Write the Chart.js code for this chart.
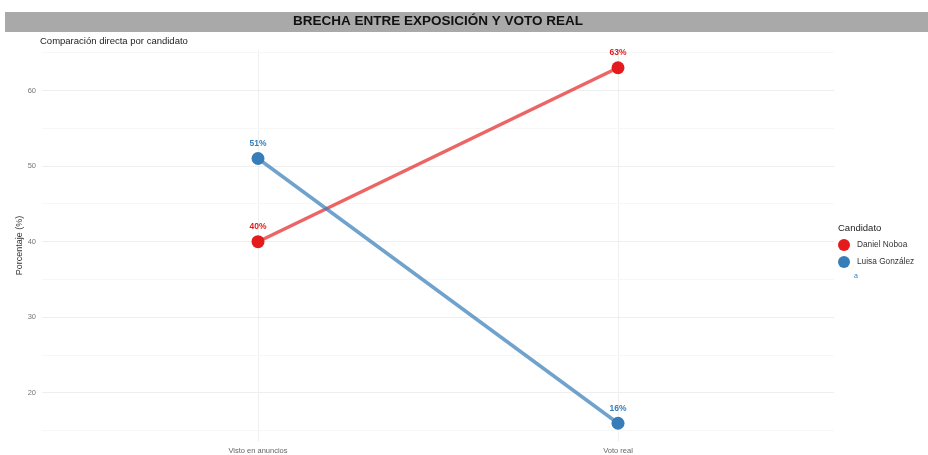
<!DOCTYPE html>
<html>
<head>
<meta charset="utf-8">
<script src="https://cdn.jsdelivr.net/npm/chart.js@4.4.1/dist/chart.umd.min.js"></script>
<style>
  html, body { margin: 0; padding: 0; background: #fff; }
  #wrap { width: 928px; height: 455px; }
</style>
</head>
<body>
<div id="wrap"><canvas id="brecha"></canvas></div>
<script>
'use strict';

var categorias = ['Visto en anuncios', 'Voto real'];
var candidatos = ['Daniel Noboa', 'Luisa González'];
var valoresNoboa = [40, 63];
var valoresGonzalez = [51, 16];
var ticksY = [20, 30, 40, 50, 60];

var rojo = '#E41A1C';
var azul = '#377EB8';
var fuente = '"Liberation Sans", Arial, sans-serif';

function puntos(valores) {
    return valores.map(function (v, i) { return { x: i + 1, y: v }; });
}

// band + title, subtitle, value labels and the side legend
var decoracion = {
    id: 'decoracion',
    beforeDraw: function (chart) {
        var ctx = chart.ctx;
        var area = chart.chartArea;
        ctx.save();
        ctx.fillStyle = '#a9a9a9';
        ctx.fillRect(5, 12, 923, 20);
        ctx.fillStyle = '#111';
        ctx.font = 'bold 13.5px ' + fuente;
        ctx.textAlign = 'center';
        ctx.textBaseline = 'middle';
        ctx.fillText('BRECHA ENTRE EXPOSICIÓN Y VOTO REAL', (area.left + area.right) / 2, 21);
        ctx.font = '9.5px ' + fuente;
        ctx.textAlign = 'left';
        ctx.fillStyle = '#222';
        ctx.fillText('Comparación directa por candidato', 40, 41);
        ctx.restore();
    },
    afterDatasetsDraw: function (chart) {
        var ctx = chart.ctx;
        ctx.save();
        ctx.font = 'bold 8.5px ' + fuente;
        ctx.textAlign = 'center';
        ctx.textBaseline = 'middle';
        chart.data.datasets.forEach(function (ds, i) {
            var meta = chart.getDatasetMeta(i);
            ctx.fillStyle = ds.colorEtiqueta;
            meta.data.forEach(function (p, j) {
                ctx.fillText(ds.data[j].y + '%', p.x, p.y - 15);
            });
        });
        ctx.restore();
    },
    afterDraw: function (chart) {
        var ctx = chart.ctx;
        ctx.save();
        ctx.textBaseline = 'middle';
        ctx.textAlign = 'left';
        ctx.fillStyle = '#222';
        ctx.font = '9.5px ' + fuente;
        ctx.fillText('Candidato', 838, 228);
        var colores = [rojo, azul];
        ctx.font = '8.3px ' + fuente;
        candidatos.forEach(function (c, i) {
            var y = 245 + i * 17;
            ctx.fillStyle = colores[i];
            ctx.beginPath();
            ctx.arc(844, y, 6, 0, Math.PI * 2);
            ctx.fill();
            ctx.fillStyle = '#333';
            ctx.fillText(c, 857, y);
        });
        ctx.fillStyle = azul;
        ctx.font = '7px ' + fuente;
        ctx.fillText('a', 854, 276);
        ctx.restore();
    }
};

var ctx = document.getElementById('brecha');
var chart = new Chart(ctx, {
    type: 'line',
    data: {
        datasets: [{
            label: candidatos[0],
            data: puntos(valoresNoboa),
            borderColor: 'rgba(228, 26, 28, 0.68)',
            backgroundColor: rojo,
            pointBackgroundColor: rojo,
            pointBorderWidth: 0,
            pointRadius: 6.5,
            borderWidth: 3.5,
            colorEtiqueta: rojo,
            order: 1
        }, {
            label: candidatos[1],
            data: puntos(valoresGonzalez),
            borderColor: 'rgba(55, 126, 184, 0.72)',
            backgroundColor: azul,
            pointBackgroundColor: azul,
            pointBorderWidth: 0,
            pointRadius: 6.5,
            borderWidth: 3.5,
            colorEtiqueta: azul,
            order: 0
        }]
    },
    options: {
        responsive: true,
        maintainAspectRatio: false,
        animation: false,
        layout: { padding: { left: 0, right: 94, top: 50, bottom: 0 } },
        plugins: {
            legend: { display: false },
            tooltip: { enabled: false }
        },
        scales: {
            x: {
                type: 'linear',
                min: 0.4,
                max: 2.6,
                afterBuildTicks: function (scale) {
                    scale.ticks = categorias.map(function (c, i) { return { value: i + 1 }; });
                },
                afterFit: function (scale) { scale.height = 14; },
                border: { display: false },
                grid: { color: '#efefef', drawTicks: false },
                ticks: {
                    padding: 5,
                    color: '#666',
                    font: { family: fuente, size: 7.5 },
                    callback: function (v) { return categorias[v - 1]; }
                }
            },
            y: {
                min: 13.65,
                max: 65.35,
                afterBuildTicks: function (scale) {
                    var t = [];
                    for (var v = 15; v <= 65; v += 5) t.push({ value: v });
                    scale.ticks = t;
                },
                afterFit: function (scale) { scale.width = 42; },
                border: { display: false },
                grid: {
                    drawTicks: false,
                    color: function (c) {
                        return ticksY.indexOf(c.tick.value) >= 0 ? '#eeeeee' : '#f7f7f7';
                    }
                },
                title: {
                    display: true,
                    text: 'Porcentaje (%)',
                    color: '#333',
                    font: { family: fuente, size: 9 },
                    padding: { top: 14 }
                },
                ticks: {
                    padding: 6,
                    color: '#777',
                    font: { family: fuente, size: 7.5 },
                    callback: function (v) { return ticksY.indexOf(v) >= 0 ? v : ''; }
                }
            }
        }
    },
    plugins: [decoracion]
});
</script>
</body>
</html>
